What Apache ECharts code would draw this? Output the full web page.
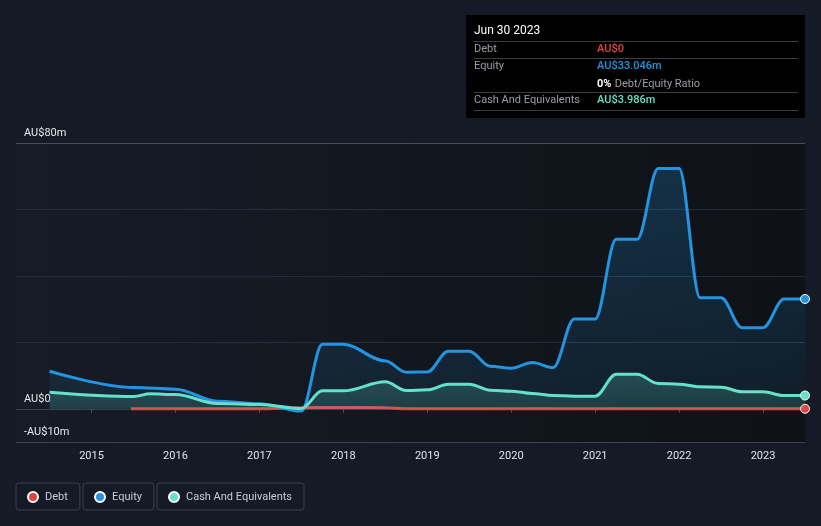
<!DOCTYPE html>
<html>
<head>
<meta charset="utf-8">
<script src="https://cdn.jsdelivr.net/npm/echarts@6/dist/echarts.min.js"></script>
<style>
html,body{margin:0;padding:0;background:#151b26;}
#chart{width:821px;height:526px;}
</style>
</head>
<body>
<div id="chart"></div>
<script>
// Dates as decimal years
const equityDates = [2014.5, 2015.5, 2016.0, 2016.5, 2017.0, 2017.5, 2017.75, 2018.0, 2018.5, 2018.75, 2019.0, 2019.25, 2019.5, 2019.75, 2020.0, 2020.25, 2020.5, 2020.75, 2021.0, 2021.25, 2021.5, 2021.75, 2022.0, 2022.25, 2022.5, 2022.75, 2023.0, 2023.25, 2023.5];
const equityValues = [11.3, 6.4, 5.9, 2.3, 1.5, -0.7, 19.4, 19.4, 14.4, 11.0, 11.1, 17.3, 17.3, 12.8, 12.2, 13.9, 12.4, 27.0, 27.0, 51.0, 51.0, 72.3, 72.3, 33.4, 33.4, 24.4, 24.4, 33.046, 33.046];

const cashDates = [2014.5, 2015.5, 2015.7, 2016.0, 2016.5, 2017.0, 2017.5, 2017.75, 2018.0, 2018.5, 2018.75, 2019.0, 2019.25, 2019.5, 2019.75, 2020.0, 2020.25, 2020.5, 2020.75, 2021.0, 2021.25, 2021.5, 2021.75, 2022.0, 2022.25, 2022.5, 2022.75, 2023.0, 2023.25, 2023.5];
const cashValues = [5.0, 3.7, 4.5, 4.3, 1.6, 1.3, 0.1, 5.4, 5.4, 8.1, 5.5, 5.7, 7.4, 7.4, 5.6, 5.3, 4.6, 4.0, 3.8, 3.8, 10.4, 10.4, 7.6, 7.4, 6.6, 6.5, 5.1, 5.1, 3.986, 3.986];

const debtDates = [2015.47, 2016.0, 2016.5, 2017.0, 2017.5, 2018.0, 2018.5, 2018.75, 2019.0, 2019.5, 2020.0, 2020.5, 2021.0, 2021.5, 2022.0, 2022.5, 2023.0, 2023.5];
const debtValues = [0, 0, 0, 0, 0.3, 0.4, 0.3, 0, 0, 0, 0, 0, 0, 0, 0, 0, 0, 0];

const yearTicks = [2015, 2016, 2017, 2018, 2019, 2020, 2021, 2022, 2023];
const yLabels = {'80': 'AU$80m', '0': 'AU$0', '-10': '-AU$10m'};

const tipTitle = 'Jun 30 2023';
const tipDebt = 'AU$0';
const tipEquity = 'AU$33.046m';
const tipRatio = '0%';
const tipCash = 'AU$3.986m';

const FONT = 'Roboto, "Noto Sans", sans-serif';
const RED = '#e64141', BLUE = '#2394df', TEAL = '#63e2c9';

function pairs(xs, ys){ return xs.map((x,i)=>[x, ys[i]]); }
function lastOnly(n){ return function(v, p){ return p.dataIndex === n-1 ? 'circle' : 'none'; }; }

const chart = echarts.init(document.getElementById('chart'), null, {renderer:'canvas'});

function legendBox(name, left){
  return {
    data:[name], left:left, top:483, orient:'horizontal',
    icon:'circle', itemWidth:10, itemHeight:10, itemGap:0,
    borderColor:'#3b414c', borderWidth:1, borderRadius:3,
    padding:[8,12,7,11],
    textStyle:{color:'#c8ccd2', fontSize:11, fontFamily:FONT, padding:[0,0,0,2]},
    selectedMode:false
  };
}

chart.setOption({
  backgroundColor:'#151b26',
  animation:false,
  textStyle:{fontFamily:FONT},
  grid:{left:16, right:16, top:143, bottom:84, show:true, borderWidth:0,
    backgroundColor:{type:'linear', x:0, y:0, x2:1, y2:0, colorStops:[{offset:0,color:'#161c27'},{offset:1,color:'#0e1217'}]}},
  legend:[legendBox('Debt',16), legendBox('Equity',83), legendBox('Cash And Equivalents',157)],
  xAxis:{
    type:'value', min:2014.1, max:2023.5,
    axisLine:{show:true, lineStyle:{color:'#3d434d', width:1}},
    axisTick:{show:true, customValues:yearTicks, length:4, lineStyle:{color:'#4a505a'}},
    axisLabel:{customValues:yearTicks, formatter:v=>String(Math.round(v)), color:'#e0e3e8', fontSize:11, margin:9, fontFamily:FONT},
    splitLine:{show:false}
  },
  yAxis:{
    type:'value', min:-10, max:80, interval:10,
    axisLine:{show:false}, axisTick:{show:false},
    axisLabel:{inside:true, verticalAlign:'bottom', margin:8, padding:[0,0,4,0], color:'#e6e8ec', fontSize:11, fontFamily:FONT,
      formatter:v=>yLabels[String(v)] || ''},
    splitLine:{show:true, lineStyle:{width:1, color:['#3d434d','#b5b8bd','rgba(0,0,0,0)','#272d38','rgba(0,0,0,0)','#272d38','rgba(0,0,0,0)','#272d38','rgba(0,0,0,0)','#4b5059']}}
  },
  series:[
    {name:'Debt', type:'line', data:pairs(debtDates, debtValues), color:RED,
      smooth:0.3, smoothMonotone:'x', showAllSymbol:true, symbol:lastOnly(debtDates.length), symbolSize:9,
      itemStyle:{color:RED, borderColor:'#ffffff', borderWidth:1},
      lineStyle:{color:RED, width:3}, z:2},
    {name:'Equity', type:'line', data:pairs(equityDates, equityValues), color:BLUE,
      smooth:0.35, smoothMonotone:'x', showAllSymbol:true, symbol:lastOnly(equityDates.length), symbolSize:9,
      itemStyle:{color:BLUE, borderColor:'#ffffff', borderWidth:1},
      lineStyle:{color:BLUE, width:3},
      areaStyle:{color:{type:'linear', x:0, y:0, x2:0, y2:1, colorStops:[{offset:0,color:'rgba(35,148,223,0.32)'},{offset:1,color:'rgba(35,148,223,0.12)'}]}}, z:3},
    {name:'Cash And Equivalents', type:'line', data:pairs(cashDates, cashValues), color:TEAL,
      smooth:0.35, smoothMonotone:'x', showAllSymbol:true, symbol:lastOnly(cashDates.length), symbolSize:9,
      itemStyle:{color:TEAL, borderColor:'#ffffff', borderWidth:1},
      lineStyle:{color:TEAL, width:3},
      areaStyle:{color:{type:'linear', x:0, y:0, x2:0, y2:1, colorStops:[{offset:0,color:'rgba(99,226,201,0.32)'},{offset:1,color:'rgba(99,226,201,0.2)'}]}}, z:4}
  ],
  graphic:[
    {type:'group', left:466, top:15, children:[
      {type:'rect', shape:{x:0,y:0,width:339,height:103}, style:{fill:'#000000'}},
      {type:'text', x:8, y:10, style:{text:tipTitle, fill:'#ffffff', font:'12px '+FONT}},
      {type:'line', shape:{x1:8,y1:26.5,x2:332,y2:26.5}, style:{stroke:'#3a3d42', lineWidth:1}},
      {type:'text', x:8, y:29, style:{text:'Debt', fill:'#9a9ea4', font:'11px '+FONT}},
      {type:'text', x:131, y:29, style:{text:tipDebt, fill:RED, font:'500 11px '+FONT}},
      {type:'line', shape:{x1:8,y1:43.5,x2:332,y2:43.5}, style:{stroke:'#3a3d42', lineWidth:1}},
      {type:'text', x:8, y:46, style:{text:'Equity', fill:'#9a9ea4', font:'11px '+FONT}},
      {type:'text', x:131, y:46, style:{text:tipEquity, fill:BLUE, font:'500 11px '+FONT}},
      {type:'text', x:131, y:63, style:{rich:{a:{fill:'#ffffff', font:'bold 11px '+FONT}, b:{fill:'#9a9ea4', font:'11px '+FONT}}, text:'{a|'+tipRatio+'} {b|Debt/Equity Ratio}'}},
      {type:'line', shape:{x1:8,y1:77.5,x2:332,y2:77.5}, style:{stroke:'#3a3d42', lineWidth:1}},
      {type:'text', x:8, y:80, style:{text:'Cash And Equivalents', fill:'#9a9ea4', font:'11px '+FONT}},
      {type:'text', x:131, y:80, style:{text:tipCash, fill:TEAL, font:'500 11px '+FONT}},
      {type:'line', shape:{x1:8,y1:95.5,x2:332,y2:95.5}, style:{stroke:'#3a3d42', lineWidth:1}}
    ]}
  ]
});
</script>
</body>
</html>
